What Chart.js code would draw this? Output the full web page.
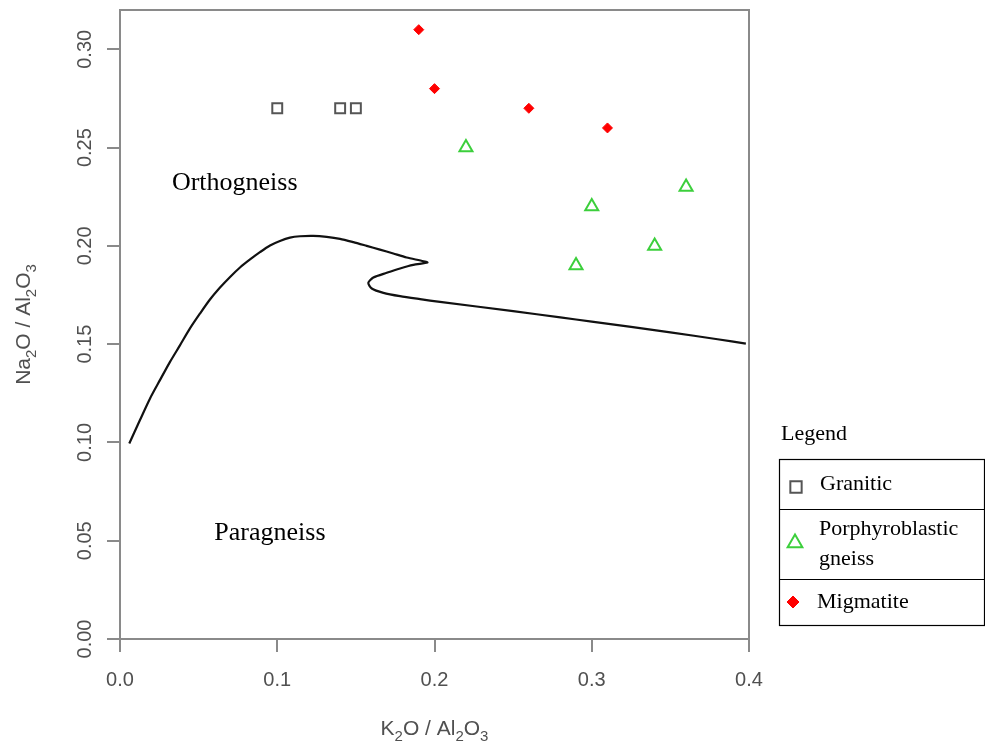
<!DOCTYPE html>
<html>
<head>
<meta charset="utf-8">
<script src="https://cdn.jsdelivr.net/npm/chart.js@4.4.0/dist/chart.umd.min.js"></script>
<style>
html, body { margin: 0; padding: 0; background: #fff; }
#wrap { width: 985px; height: 749px; position: relative; }
</style>
</head>
<body>
<div id="wrap"><canvas id="chart" width="985" height="749"></canvas></div>
<script>
// tick values
const xTicks = [0, 0.1, 0.2, 0.3, 0.4];
const yTicks = [0, 0.05, 0.10, 0.15, 0.20, 0.25, 0.30];

// samples, [K2O/Al2O3, Na2O/Al2O3]
const granitic = [[0.10, 0.27], [0.14, 0.27], [0.15, 0.27]];
const porphyroblastic = [[0.22, 0.25], [0.30, 0.22], [0.36, 0.23], [0.34, 0.20], [0.29, 0.19]];
const migmatite = [[0.19, 0.31], [0.20, 0.28], [0.26, 0.27], [0.31, 0.26]];

// ortho / para dividing line
const boundary = [
	[0.0059, 0.0995], [0.0127, 0.1114], [0.0191, 0.1224], [0.0254, 0.1317], [0.0318, 0.1410],
	[0.0382, 0.1495], [0.0445, 0.1580], [0.0509, 0.1656], [0.0572, 0.1727], [0.0636, 0.1788],
	[0.0700, 0.1842], [0.0763, 0.1890], [0.0827, 0.1931], [0.0890, 0.1968], [0.0954, 0.2002],
	[0.1017, 0.2025], [0.1081, 0.2042], [0.1145, 0.2049], [0.1229, 0.2051], [0.1314, 0.2046],
	[0.1399, 0.2036], [0.1484, 0.2019], [0.1569, 0.2000], [0.1653, 0.1981], [0.1738, 0.1961],
	[0.1823, 0.1941], [0.1930, 0.1922], [0.1955, 0.1915], [0.1865, 0.1903], [0.1781, 0.1885],
	[0.1696, 0.1863], [0.1611, 0.1839], [0.1579, 0.1812], [0.1601, 0.1783], [0.1675, 0.1761],
	[0.1781, 0.1744], [0.1908, 0.1729], [0.2035, 0.1715], [0.2500, 0.1668], [0.2800, 0.1636],
	[0.3000, 0.1615], [0.3500, 0.1560], [0.3800, 0.1525], [0.3980, 0.1503]
];

const toXY = arr => arr.map(p => ({x: p[0], y: p[1]}));

const SANS = "'Liberation Sans', Arial, sans-serif";
const SERIF = "'Liberation Serif', 'Times New Roman', serif";
const AXIS_GREY = "#8a8a8a";
const TEXT_GREY = "#505050";

function drawChem(ctx, parts, cx, baseline, size){
	// parts: [text, isSub]
	const subSize = Math.round(size * 0.72);
	let w = 0;
	parts.forEach(p => {
		ctx.font = (p[1] ? subSize : size) + "px " + SANS;
		w += ctx.measureText(p[0]).width;
	});
	let x = cx - w / 2;
	ctx.textAlign = "left";
	ctx.textBaseline = "alphabetic";
	parts.forEach(p => {
		ctx.font = (p[1] ? subSize : size) + "px " + SANS;
		ctx.fillText(p[0], x, baseline + (p[1] ? size * 0.28 : 0));
		x += ctx.measureText(p[0]).width;
	});
}

const extras = {
	id: "extras",
	afterDraw(chart){
		const ctx = chart.ctx;
		const a = chart.chartArea;
		const xs = chart.scales.x, ys = chart.scales.y;
		ctx.save();

		// box round the plot
		ctx.strokeStyle = AXIS_GREY;
		ctx.lineWidth = 2;
		ctx.strokeRect(a.left, a.top, a.right - a.left, a.bottom - a.top);

		// y tick labels, R style (rotated)
		ctx.fillStyle = TEXT_GREY;
		ctx.font = "20px " + SANS;
		ctx.textAlign = "center";
		ctx.textBaseline = "alphabetic";
		yTicks.forEach(v => {
			ctx.save();
			ctx.translate(91, ys.getPixelForValue(v));
			ctx.rotate(-Math.PI / 2);
			ctx.fillText(v.toFixed(2), 0, 0);
			ctx.restore();
		});

		// axis titles
		drawChem(ctx, [["K", 0], ["2", 1], ["O / Al", 0], ["2", 1], ["O", 0], ["3", 1]],
			(a.left + a.right) / 2, 735, 21);
		ctx.save();
		ctx.translate(30, (a.top + a.bottom) / 2);
		ctx.rotate(-Math.PI / 2);
		drawChem(ctx, [["Na", 0], ["2", 1], ["O / Al", 0], ["2", 1], ["O", 0], ["3", 1]], 0, 0, 21);
		ctx.restore();

		// field names
		ctx.fillStyle = "#000";
		ctx.font = "26px " + SERIF;
		ctx.textAlign = "left";
		ctx.textBaseline = "alphabetic";
		ctx.fillText("Orthogneiss", xs.getPixelForValue(0.0330), ys.getPixelForValue(0.2282));
		ctx.fillText("Paragneiss", xs.getPixelForValue(0.0600), ys.getPixelForValue(0.0503));

		// legend
		const L = 779.5, R = 984.5;
		const rows = [459.5, 509.5, 579.5, 625.5];
		ctx.font = "22px " + SERIF;
		ctx.fillText("Legend", 781, 440);
		ctx.strokeStyle = "#000";
		ctx.lineWidth = 1.2;
		ctx.strokeRect(L, rows[0], R - L, rows[3] - rows[0]);
		ctx.beginPath();
		ctx.moveTo(L, rows[1]); ctx.lineTo(R, rows[1]);
		ctx.moveTo(L, rows[2]); ctx.lineTo(R, rows[2]);
		ctx.stroke();

		const items = [
			{ds: 1, mx: 796, my: 487, lines: ["Granitic"], tx: 820, ty: [490]},
			{ds: 2, mx: 795, my: 543, lines: ["Porphyroblastic", "gneiss"], tx: 819, ty: [535, 565]},
			{ds: 3, mx: 793, my: 602, lines: ["Migmatite"], tx: 817, ty: [608]},
		];
		items.forEach(it => {
			const d = chart.data.datasets[it.ds];
			ctx.fillStyle = d.pointBackgroundColor;
			ctx.strokeStyle = d.pointBorderColor;
			ctx.lineWidth = d.pointBorderWidth;
			Chart.helpers.drawPoint(ctx, {
				pointStyle: d.pointStyle, radius: d.pointRadius + 1,
				rotation: 0, borderWidth: d.pointBorderWidth
			}, it.mx, it.my);
			ctx.fillStyle = "#000";
			ctx.font = "22px " + SERIF;
			it.lines.forEach((t, i) => ctx.fillText(t, it.tx, it.ty[i]));
		});

		ctx.restore();
	}
};

new Chart(document.getElementById("chart"), {
	type: "scatter",
	data: {
		datasets: [
			{
				label: "boundary",
				data: toXY(boundary),
				showLine: true,
				borderColor: "#111",
				borderWidth: 2.2,
				pointRadius: 0,
				tension: 0.25,
				fill: false,
			},
			{
				label: "Granitic",
				data: toXY(granitic),
				pointStyle: "rect",
				pointRadius: 7,
				pointBackgroundColor: "rgba(255,255,255,0)",
				pointBorderColor: "#555",
				pointBorderWidth: 2,
			},
			{
				label: "Porphyroblastic gneiss",
				data: toXY(porphyroblastic),
				pointStyle: "triangle",
				pointRadius: 7.5,
				pointBackgroundColor: "rgba(255,255,255,0)",
				pointBorderColor: "#3ccf3c",
				pointBorderWidth: 2,
			},
			{
				label: "Migmatite",
				data: toXY(migmatite),
				pointStyle: "rectRot",
				pointRadius: 5,
				pointBackgroundColor: "#ff0000",
				pointBorderColor: "#ff0000",
				pointBorderWidth: 1,
			},
		]
	},
	options: {
		responsive: false,
		animation: false,
		events: [],
		layout: {padding: {left: 0, top: 10, right: 236, bottom: 0}},
		plugins: {legend: {display: false}, tooltip: {enabled: false}},
		scales: {
			x: {
				type: "linear",
				min: 0, max: 0.4,
				afterBuildTicks: s => { s.ticks = xTicks.map(v => ({value: v})); },
				afterFit: s => { s.height = 110; },
				ticks: {
					color: TEXT_GREY,
					font: {family: SANS, size: 20},
					padding: 16,
					maxRotation: 0,
					callback: v => v.toFixed(1),
				},
				grid: {drawOnChartArea: false, tickLength: 13, color: AXIS_GREY, lineWidth: 2},
				border: {color: AXIS_GREY, width: 2},
			},
			y: {
				type: "linear",
				min: 0, max: 0.32,
				afterBuildTicks: s => { s.ticks = yTicks.map(v => ({value: v})); },
				afterFit: s => { s.width = 120; },
				ticks: {display: false},
				grid: {drawOnChartArea: false, tickLength: 13, color: AXIS_GREY, lineWidth: 2},
				border: {color: AXIS_GREY, width: 2},
			}
		}
	},
	plugins: [extras]
});
</script>
</body>
</html>
